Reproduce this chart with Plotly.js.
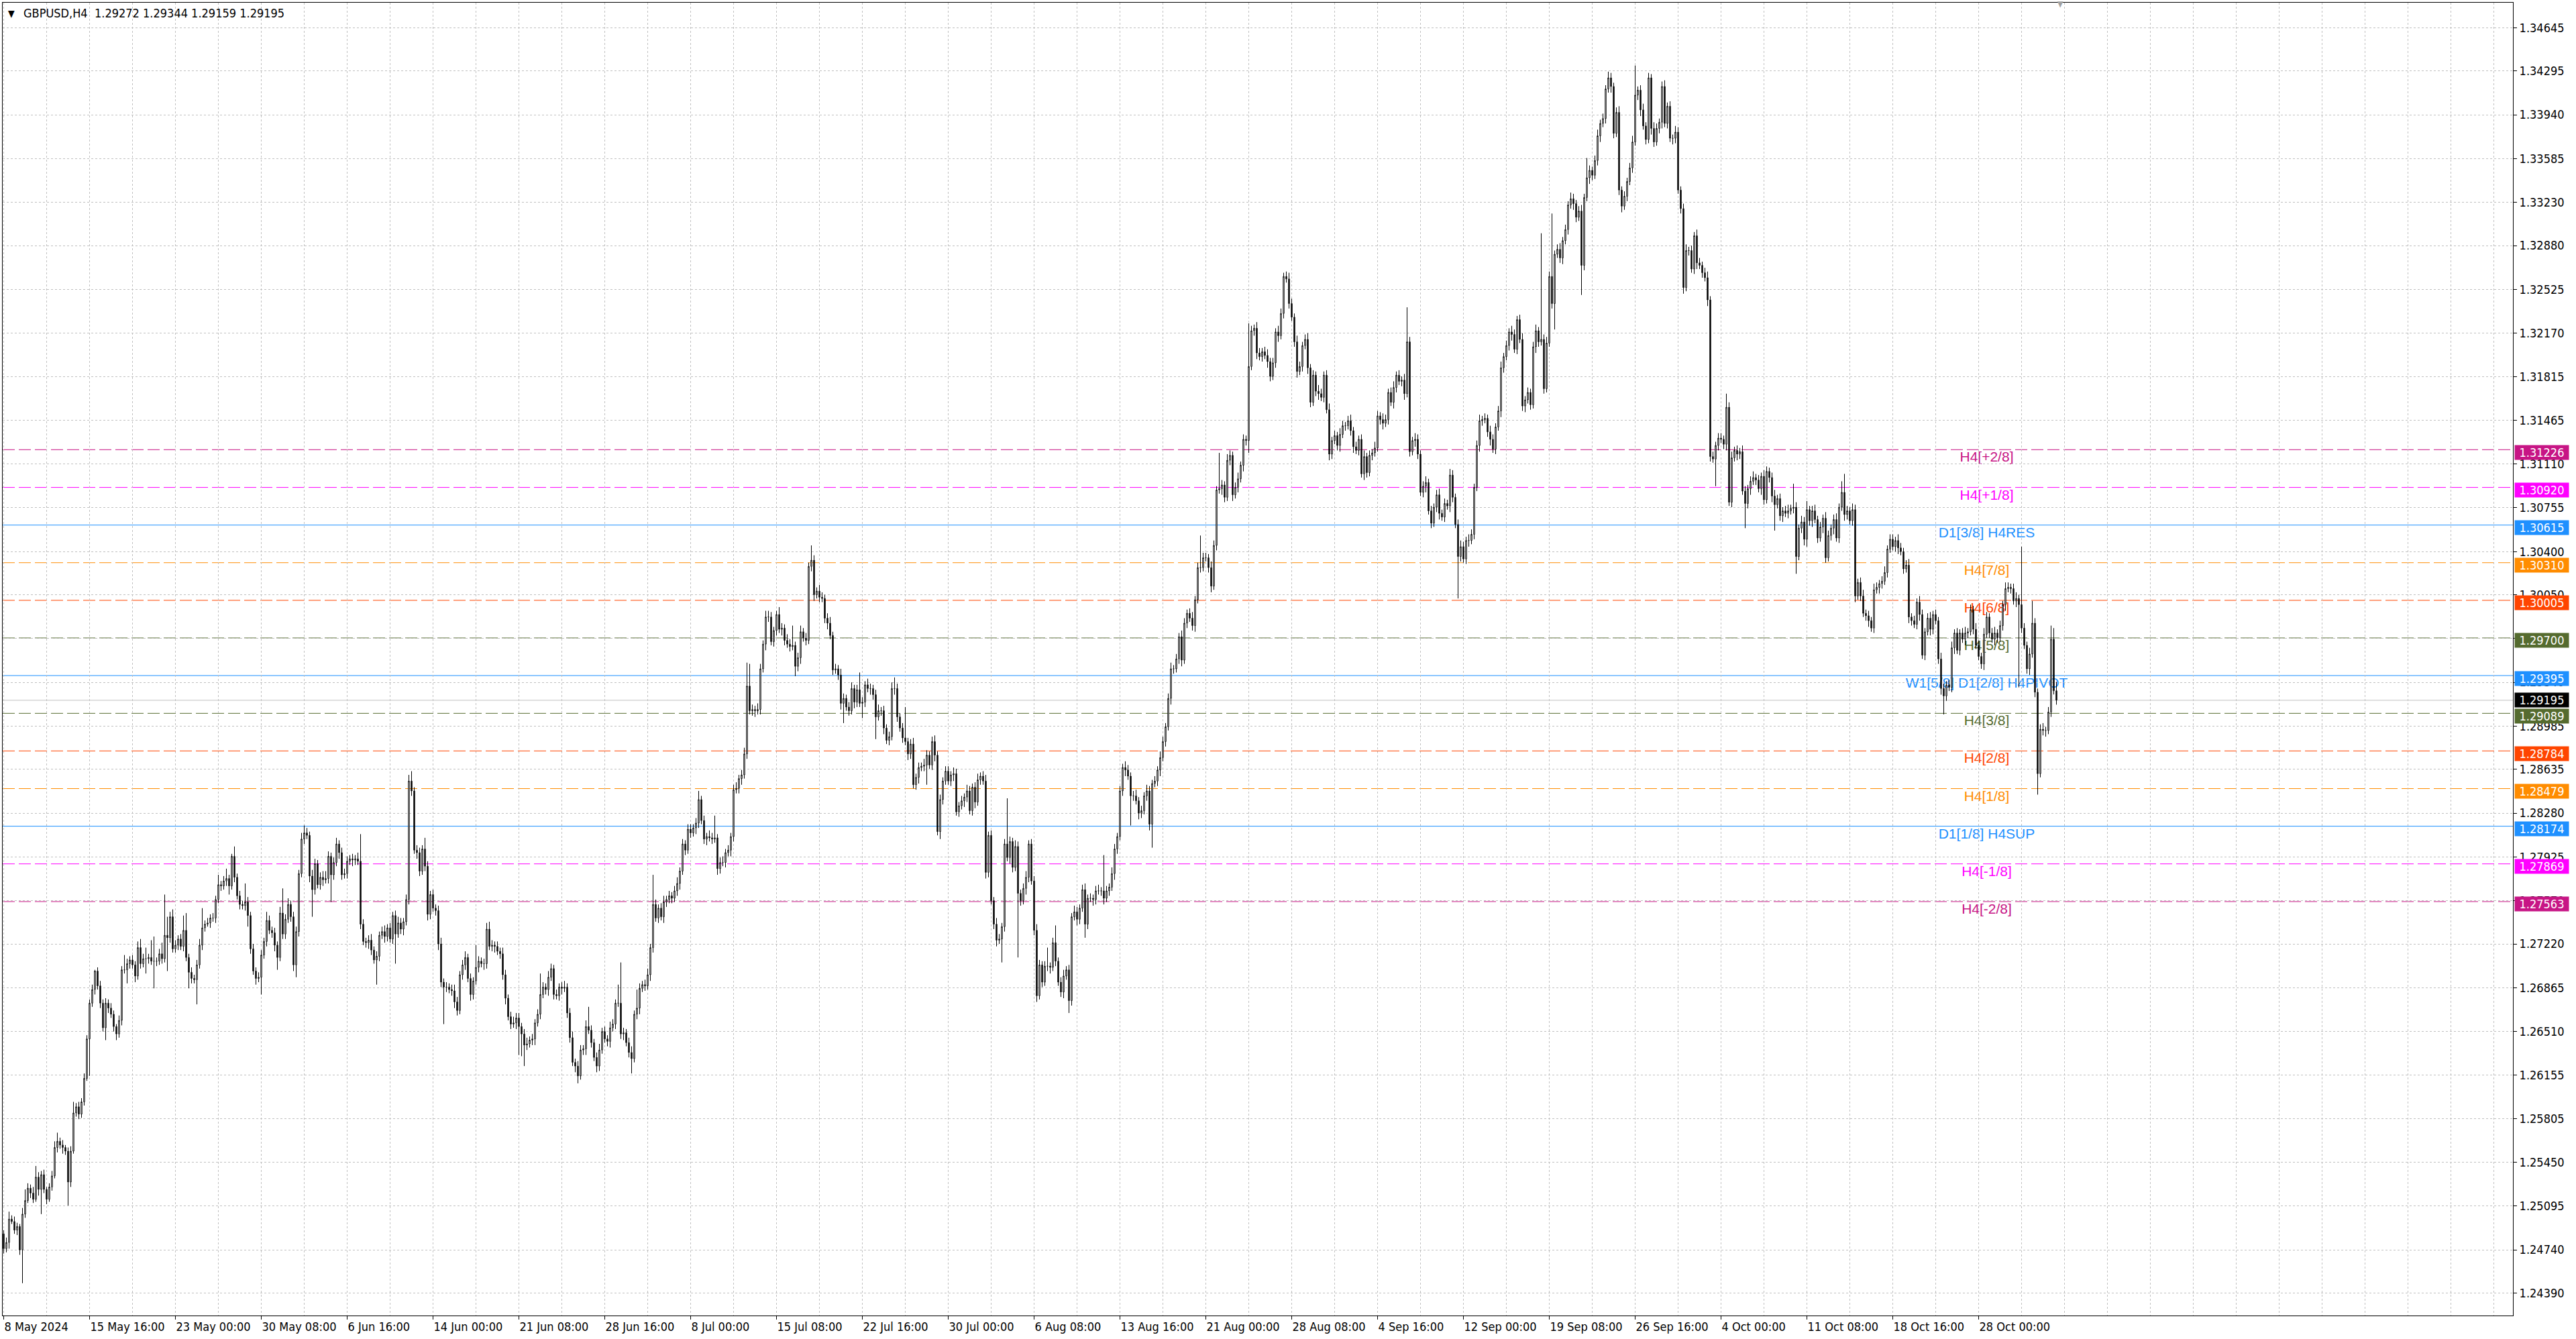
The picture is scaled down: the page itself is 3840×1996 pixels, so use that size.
<!DOCTYPE html>
<html>
<head>
<meta charset="utf-8">
<script src="https://cdn.plot.ly/plotly-3.0.1.min.js"></script>
<style>
  html, body { margin: 0; padding: 0; background: #fff; }
  #chart { width: 3840px; height: 1996px; }
</style>
</head>
<body>
<div id="chart"></div>
<script>
const SYMBOL = 'GBPUSD,H4'
const LAST_OHLC = [1.29272, 1.29344, 1.29159, 1.29195]
const FIRST_OPEN = 1.2487

const dateLabels = [
  '8 May 2024', '15 May 16:00', '23 May 00:00', '30 May 08:00', '6 Jun 16:00', '14 Jun 00:00',
  '21 Jun 08:00', '28 Jun 16:00', '8 Jul 00:00', '15 Jul 08:00', '22 Jul 16:00', '30 Jul 00:00',
  '6 Aug 08:00', '13 Aug 16:00', '21 Aug 00:00', '28 Aug 08:00', '4 Sep 16:00', '12 Sep 00:00',
  '19 Sep 08:00', '26 Sep 16:00', '4 Oct 00:00', '11 Oct 08:00', '18 Oct 16:00', '28 Oct 00:00'
]

const priceTicks = [
  1.34645, 1.34295, 1.33940, 1.33585, 1.33230, 1.32880, 1.32525, 1.32170, 1.31815, 1.31465,
  1.31110, 1.30755, 1.30400, 1.30050, 1.29695, 1.29340, 1.28985, 1.28635, 1.28280, 1.27925,
  1.27570, 1.27220, 1.26865, 1.26510, 1.26155, 1.25805, 1.25450, 1.25095, 1.24740, 1.24390
]

// H4 closes, one row per date label (32 bars)
const closes = [
  1.2475, 1.2480, 1.2499, 1.2497, 1.2490, 1.2493, 1.2474, 1.2503, 1.2514, 1.2524, 1.2520, 1.2515, 1.2533, 1.2523, 1.2535, 1.2523, 1.2515, 1.2525, 1.2534, 1.2557, 1.2562, 1.2559, 1.2557, 1.2554, 1.2529, 1.2554, 1.2585, 1.2590, 1.2584, 1.2594, 1.2613, 1.2645,
  1.2674, 1.2685, 1.2700, 1.2688, 1.2674, 1.2654, 1.2674, 1.2670, 1.2665, 1.2655, 1.2649, 1.2660, 1.2701, 1.2701, 1.2706, 1.2709, 1.2705, 1.2696, 1.2719, 1.2706, 1.2710, 1.2710, 1.2711, 1.2708, 1.2708, 1.2708, 1.2714, 1.2710, 1.2729, 1.2727, 1.2744, 1.2718,
  1.2721, 1.2726, 1.2720, 1.2733, 1.2711, 1.2699, 1.2694, 1.2693, 1.2705, 1.2721, 1.2735, 1.2738, 1.2739, 1.2743, 1.2743, 1.2758, 1.2770, 1.2769, 1.2773, 1.2775, 1.2769, 1.2793, 1.2776, 1.2761, 1.2754, 1.2753, 1.2756, 1.2745, 1.2718, 1.2700, 1.2694, 1.2695,
  1.2713, 1.2724, 1.2741, 1.2733, 1.2731, 1.2721, 1.2711, 1.2747, 1.2730, 1.2742, 1.2754, 1.2744, 1.2705, 1.2732, 1.2779, 1.2807, 1.2812, 1.2810, 1.2777, 1.2766, 1.2787, 1.2770, 1.2776, 1.2774, 1.2775, 1.2793, 1.2778, 1.2788, 1.2803, 1.2796, 1.2778, 1.2779,
  1.2789, 1.2791, 1.2790, 1.2791, 1.2789, 1.2738, 1.2724, 1.2723, 1.2725, 1.2717, 1.2709, 1.2712, 1.2729, 1.2732, 1.2728, 1.2735, 1.2726, 1.2745, 1.2730, 1.2739, 1.2734, 1.2740, 1.2758, 1.2854, 1.2846, 1.2798, 1.2796, 1.2781, 1.2799, 1.2785, 1.2746, 1.2762,
  1.2751, 1.2749, 1.2722, 1.2691, 1.2687, 1.2687, 1.2685, 1.2684, 1.2675, 1.2668, 1.2697, 1.2705, 1.2711, 1.2694, 1.2681, 1.2692, 1.2703, 1.2708, 1.2706, 1.2706, 1.2734, 1.2720, 1.2721, 1.2720, 1.2716, 1.2714, 1.2697, 1.2678, 1.2663, 1.2657, 1.2658, 1.2662,
  1.2655, 1.2649, 1.2640, 1.2641, 1.2644, 1.2645, 1.2658, 1.2665, 1.2681, 1.2687, 1.2685, 1.2695, 1.2702, 1.2681, 1.2680, 1.2687, 1.2686, 1.2687, 1.2666, 1.2646, 1.2626, 1.2623, 1.2615, 1.2636, 1.2637, 1.2655, 1.2652, 1.2642, 1.2630, 1.2623, 1.2636, 1.2651,
  1.2645, 1.2643, 1.2654, 1.2657, 1.2674, 1.2674, 1.2649, 1.2650, 1.2642, 1.2634, 1.2629, 1.2665, 1.2670, 1.2686, 1.2689, 1.2688, 1.2697, 1.2719, 1.2754, 1.2743, 1.2751, 1.2744, 1.2756, 1.2758, 1.2761, 1.2759, 1.2765, 1.2771, 1.2781, 1.2803, 1.2798, 1.2815,
  1.2812, 1.2816, 1.2820, 1.2839, 1.2822, 1.2807, 1.2809, 1.2808, 1.2807, 1.2808, 1.2783, 1.2788, 1.2788, 1.2796, 1.2798, 1.2809, 1.2847, 1.2848, 1.2856, 1.2859, 1.2876, 1.2931, 1.2911, 1.2912, 1.2911, 1.2912, 1.2945, 1.2965, 1.2987, 1.2987, 1.2967, 1.2976,
  1.2989, 1.2977, 1.2978, 1.2968, 1.2965, 1.2963, 1.2964, 1.2947, 1.2954, 1.2975, 1.2970, 1.2968, 1.3028, 1.3033, 1.3005, 1.3008, 1.3003, 1.3002, 1.2986, 1.2982, 1.2972, 1.2944, 1.2945, 1.2940, 1.2917, 1.2921, 1.2914, 1.2911, 1.2929, 1.2918, 1.2928, 1.2917,
  1.2918, 1.2932, 1.2929, 1.2929, 1.2924, 1.2906, 1.2911, 1.2911, 1.2897, 1.2887, 1.2890, 1.2929, 1.2929, 1.2906, 1.2897, 1.2889, 1.2886, 1.2876, 1.2884, 1.2851, 1.2857, 1.2865, 1.2866, 1.2867, 1.2875, 1.2867, 1.2886, 1.2875, 1.2813, 1.2839, 1.2854, 1.2862,
  1.2854, 1.2859, 1.2860, 1.2829, 1.2834, 1.2838, 1.2841, 1.2846, 1.2830, 1.2849, 1.2837, 1.2855, 1.2858, 1.2854, 1.2780, 1.2810, 1.2757, 1.2738, 1.2725, 1.2726, 1.2736, 1.2803, 1.2792, 1.2805, 1.2784, 1.2801, 1.2763, 1.2757, 1.2767, 1.2776, 1.2803, 1.2773,
  1.2733, 1.2680, 1.2705, 1.2691, 1.2704, 1.2704, 1.2703, 1.2723, 1.2708, 1.2691, 1.2683, 1.2696, 1.2701, 1.2676, 1.2744, 1.2748, 1.2742, 1.2751, 1.2766, 1.2738, 1.2759, 1.2759, 1.2758, 1.2765, 1.2765, 1.2765, 1.2759, 1.2765, 1.2768, 1.2779, 1.2799, 1.2809,
  1.2846, 1.2865, 1.2863, 1.2858, 1.2842, 1.2842, 1.2838, 1.2828, 1.2830, 1.2842, 1.2846, 1.2819, 1.2852, 1.2854, 1.2863, 1.2873, 1.2886, 1.2898, 1.2921, 1.2945, 1.2945, 1.2953, 1.2971, 1.2952, 1.2982, 1.2990, 1.2986, 1.2980, 1.3001, 1.3027, 1.3027, 1.3035,
  1.3035, 1.3027, 1.3012, 1.3045, 1.3090, 1.3091, 1.3094, 1.3084, 1.3114, 1.3118, 1.3086, 1.3092, 1.3099, 1.3110, 1.3131, 1.3130, 1.3190, 1.3219, 1.3221, 1.3201, 1.3198, 1.3202, 1.3199, 1.3194, 1.3182, 1.3193, 1.3218, 1.3215, 1.3233, 1.3263, 1.3261, 1.3241,
  1.3230, 1.3210, 1.3186, 1.3190, 1.3207, 1.3212, 1.3189, 1.3161, 1.3183, 1.3170, 1.3168, 1.3165, 1.3183, 1.3155, 1.3119, 1.3130, 1.3134, 1.3126, 1.3135, 1.3142, 1.3142, 1.3146, 1.3138, 1.3125, 1.3122, 1.3131, 1.3103, 1.3117, 1.3104, 1.3118, 1.3120, 1.3124,
  1.3150, 1.3147, 1.3144, 1.3147, 1.3169, 1.3161, 1.3173, 1.3183, 1.3178, 1.3179, 1.3168, 1.3210, 1.3121, 1.3130, 1.3131, 1.3119, 1.3088, 1.3093, 1.3096, 1.3073, 1.3063, 1.3076, 1.3086, 1.3071, 1.3068, 1.3079, 1.3077, 1.3102, 1.3084, 1.3062, 1.3036, 1.3044,
  1.3034, 1.3049, 1.3049, 1.3054, 1.3092, 1.3126, 1.3146, 1.3147, 1.3148, 1.3137, 1.3131, 1.3123, 1.3141, 1.3154, 1.3189, 1.3198, 1.3207, 1.3218, 1.3216, 1.3204, 1.3228, 1.3212, 1.3158, 1.3163, 1.3169, 1.3159, 1.3206, 1.3219, 1.3210, 1.3212, 1.3172, 1.3209,
  1.3263, 1.3241, 1.3281, 1.3285, 1.3278, 1.3292, 1.3301, 1.3321, 1.3326, 1.3322, 1.3311, 1.3316, 1.3272, 1.3327, 1.3343, 1.3349, 1.3345, 1.3357, 1.3377, 1.3387, 1.3391, 1.3415, 1.3424, 1.3417, 1.3379, 1.3396, 1.3333, 1.3320, 1.3328, 1.3340, 1.3351, 1.3372,
  1.3410, 1.3414, 1.3398, 1.3385, 1.3374, 1.3424, 1.3383, 1.3372, 1.3383, 1.3388, 1.3417, 1.3387, 1.3401, 1.3375, 1.3375, 1.3380, 1.3333, 1.3318, 1.3254, 1.3284, 1.3284, 1.3269, 1.3296, 1.3274, 1.3272, 1.3266, 1.3262, 1.3244, 1.3117, 1.3115, 1.3126, 1.3132,
  1.3131, 1.3127, 1.3157, 1.3080, 1.3116, 1.3122, 1.3119, 1.3121, 1.3089, 1.3079, 1.3091, 1.3097, 1.3100, 1.3098, 1.3091, 1.3101, 1.3082, 1.3105, 1.3100, 1.3085, 1.3078, 1.3083, 1.3069, 1.3073, 1.3071, 1.3073, 1.3075, 1.3076, 1.3036, 1.3059, 1.3064, 1.3050,
  1.3074, 1.3065, 1.3073, 1.3066, 1.3051, 1.3060, 1.3067, 1.3035, 1.3053, 1.3059, 1.3066, 1.3051, 1.3076, 1.3088, 1.3070, 1.3073, 1.3065, 1.3074, 1.3004, 1.3015, 1.3004, 1.2990, 1.2988, 1.2984, 1.2978, 1.3009, 1.3011, 1.3014, 1.3016, 1.3023, 1.3042, 1.3050,
  1.3044, 1.3049, 1.3043, 1.3040, 1.3026, 1.3029, 1.2987, 1.2984, 1.2981, 1.2999, 1.2989, 1.2956, 1.2975, 1.2986, 1.2977, 1.2989, 1.2984, 1.2953, 1.2929, 1.2923, 1.2932, 1.2930, 1.2962, 1.2974, 1.2960, 1.2974, 1.2969, 1.2974, 1.2975, 1.2993, 1.2977, 1.2964,
  1.2955, 1.2949, 1.2973, 1.2987, 1.2974, 1.2969, 1.2974, 1.2970, 1.2980, 1.2997, 1.3010, 1.3011, 1.3010, 1.3000, 1.3002, 1.2997, 1.2978, 1.2964, 1.2945, 1.2957, 1.2982, 1.2926, 1.2860, 1.2896, 1.2895, 1.2895, 1.2910, 1.2969, 1.29272, 1.29195
]

// upper / lower wick beyond the body, in pips
const wickUp = [
  3, 4, 6, 3, 4, 3, 2, 5, 9, 4, 3, 5, 9, 4, 3, 4, 2, 3, 4, 5, 7, 3, 4, 2, 3, 4, 9, 3, 4, 3, 4, 3,
  3, 4, 1, 3, 4, 3, 4, 3, 4, 3, 2, 4, 3, 12, 4, 3, 4, 3, 5, 7, 4, 9, 3, 14, 20, 3, 4, 9, 33, 15, 4, 6,
  4, 3, 4, 12, 14, 3, 4, 3, 4, 5, 16, 3, 4, 3, 4, 3, 8, 3, 4, 8, 3, 2, 8, 3, 4, 3, 15, 4, 3, 4, 3, 4,
  4, 3, 7, 4, 3, 4, 3, 5, 20, 4, 5, 3, 4, 4, 3, 5, 6, 4, 3, 5, 4, 3, 4, 5, 6, 4, 3, 4, 5, 3, 4, 4,
  4, 3, 4, 3, 5, 22, 4, 3, 4, 5, 3, 4, 3, 4, 5, 3, 4, 3, 4, 5, 4, 3, 4, 5, 8, 3, 4, 4, 3, 9, 4, 3,
  4, 3, 4, 5, 3, 4, 3, 4, 5, 4, 3, 4, 5, 3, 4, 3, 18, 4, 3, 4, 5, 6, 4, 3, 4, 3, 5, 4, 3, 4, 5, 4,
  4, 3, 4, 5, 3, 4, 3, 4, 17, 4, 3, 5, 4, 3, 4, 3, 4, 5, 3, 4, 5, 3, 4, 4, 3, 5, 16, 4, 3, 4, 5, 3,
  4, 3, 5, 4, 3, 15, 33, 4, 3, 4, 5, 3, 15, 4, 3, 4, 5, 3, 24, 4, 3, 4, 5, 3, 4, 3, 4, 5, 3, 4, 3, 4,
  4, 3, 4, 7, 3, 4, 3, 5, 4, 18, 3, 4, 5, 3, 4, 3, 4, 5, 3, 4, 5, 19, 18, 4, 3, 5, 4, 3, 5, 5, 4, 3,
  3, 6, 4, 3, 5, 4, 16, 3, 4, 5, 3, 4, 3, 12, 4, 3, 5, 4, 3, 4, 5, 3, 4, 3, 5, 4, 3, 4, 5, 3, 4, 14,
  4, 3, 5, 4, 3, 4, 5, 3, 4, 3, 4, 5, 9, 4, 3, 4, 25, 3, 4, 5, 3, 4, 3, 5, 4, 3, 4, 5, 3, 4, 3, 4,
  4, 3, 5, 4, 3, 4, 3, 5, 4, 3, 4, 5, 3, 4, 5, 3, 4, 3, 5, 4, 3, 4, 37, 4, 3, 5, 4, 3, 4, 5, 3, 4,
  4, 5, 4, 3, 4, 15, 3, 4, 14, 3, 4, 5, 3, 4, 3, 5, 4, 3, 4, 5, 3, 4, 3, 4, 5, 3, 29, 4, 3, 5, 4, 3,
  4, 3, 5, 4, 3, 4, 5, 3, 4, 3, 5, 4, 3, 4, 3, 5, 4, 3, 4, 5, 3, 4, 3, 5, 4, 3, 4, 5, 3, 4, 26, 4,
  4, 3, 5, 4, 3, 29, 4, 3, 5, 4, 3, 4, 5, 3, 4, 3, 35, 4, 3, 5, 4, 3, 4, 5, 3, 4, 3, 5, 4, 3, 4, 5,
  4, 3, 5, 4, 3, 4, 5, 3, 4, 3, 5, 4, 3, 4, 5, 3, 4, 3, 5, 4, 3, 4, 5, 3, 4, 3, 4, 5, 3, 4, 3, 5,
  4, 3, 5, 4, 3, 4, 5, 3, 4, 3, 5, 28, 4, 3, 5, 4, 3, 4, 5, 3, 4, 3, 4, 5, 3, 4, 3, 5, 4, 3, 4, 5,
  4, 3, 5, 4, 3, 4, 5, 3, 4, 3, 5, 4, 3, 4, 5, 3, 4, 3, 5, 4, 3, 4, 5, 3, 4, 3, 4, 5, 3, 86, 4, 5,
  4, 51, 3, 4, 5, 3, 4, 3, 5, 4, 3, 4, 5, 3, 16, 4, 3, 4, 5, 3, 4, 3, 5, 4, 3, 4, 5, 3, 4, 3, 4, 5,
  24, 3, 4, 5, 3, 4, 3, 5, 4, 3, 4, 5, 3, 4, 3, 5, 4, 3, 4, 5, 3, 4, 3, 5, 4, 3, 4, 5, 3, 4, 3, 4,
  4, 3, 11, 4, 5, 3, 4, 3, 5, 4, 3, 4, 5, 3, 4, 3, 5, 4, 3, 4, 5, 3, 4, 3, 4, 5, 3, 19, 4, 3, 5, 4,
  7, 3, 4, 5, 3, 4, 3, 5, 4, 3, 4, 5, 3, 9, 15, 4, 3, 5, 4, 3, 4, 5, 3, 4, 3, 5, 4, 3, 4, 5, 3, 4,
  4, 3, 5, 4, 3, 4, 5, 3, 4, 3, 5, 4, 3, 4, 5, 3, 4, 3, 5, 4, 3, 4, 5, 3, 4, 3, 4, 5, 3, 4, 3, 5,
  4, 3, 5, 4, 3, 4, 5, 3, 4, 3, 5, 4, 3, 4, 5, 3, 47, 4, 3, 5, 18, 4, 3, 4, 5, 3, 4, 11, 9, 7
]

const wickDown = [
  4, 3, 5, 2, 3, 4, 4, 27, 3, 2, 4, 3, 2, 5, 20, 3, 4, 2, 3, 2, 4, 3, 5, 3, 19, 4, 2, 3, 4, 3, 3, 2,
  30, 3, 4, 3, 4, 3, 10, 4, 3, 4, 5, 3, 4, 3, 11, 4, 3, 5, 3, 4, 3, 12, 4, 3, 22, 4, 3, 4, 3, 27, 4, 3,
  3, 4, 3, 4, 3, 13, 4, 3, 20, 3, 4, 3, 2, 4, 3, 4, 3, 4, 3, 4, 7, 3, 4, 3, 4, 3, 4, 9, 4, 3, 5, 3,
  14, 3, 4, 3, 4, 5, 10, 3, 4, 4, 3, 4, 5, 10, 4, 3, 4, 3, 5, 22, 4, 3, 4, 5, 3, 4, 22, 4, 3, 5, 4, 3,
  4, 3, 5, 4, 3, 4, 3, 4, 5, 4, 3, 20, 4, 3, 5, 4, 3, 4, 24, 3, 4, 5, 3, 4, 4, 3, 5, 4, 3, 4, 5, 4,
  3, 4, 5, 4, 30, 4, 3, 4, 5, 4, 3, 4, 4, 3, 5, 4, 3, 4, 3, 5, 4, 3, 4, 5, 3, 4, 4, 5, 3, 4, 3, 5,
  23, 18, 17, 4, 3, 4, 5, 3, 4, 3, 4, 5, 3, 4, 3, 4, 5, 3, 4, 4, 3, 5, 6, 3, 4, 5, 3, 4, 3, 5, 4, 3,
  3, 4, 5, 3, 4, 3, 4, 5, 3, 4, 12, 3, 4, 5, 3, 4, 3, 5, 4, 3, 4, 3, 5, 4, 3, 4, 3, 4, 5, 3, 4, 3,
  4, 3, 5, 4, 3, 4, 5, 3, 4, 3, 5, 4, 3, 4, 3, 5, 4, 3, 4, 5, 3, 4, 3, 4, 5, 3, 4, 3, 5, 4, 3, 4,
  4, 3, 5, 4, 3, 4, 3, 8, 4, 5, 3, 4, 3, 4, 5, 3, 4, 3, 4, 5, 3, 4, 3, 4, 5, 16, 3, 4, 3, 5, 4, 3,
  12, 4, 3, 5, 4, 18, 3, 4, 5, 3, 4, 3, 5, 4, 3, 4, 3, 5, 4, 3, 4, 5, 3, 4, 16, 3, 4, 5, 3, 6, 4, 3,
  3, 4, 5, 3, 4, 3, 5, 4, 3, 4, 5, 3, 4, 3, 5, 4, 3, 4, 5, 3, 19, 4, 3, 5, 4, 3, 52, 4, 3, 5, 4, 3,
  4, 5, 3, 4, 3, 4, 5, 3, 4, 3, 4, 5, 3, 10, 4, 3, 5, 4, 3, 11, 4, 3, 5, 4, 3, 4, 5, 3, 4, 3, 5, 4,
  3, 4, 5, 3, 24, 4, 3, 5, 4, 3, 4, 5, 19, 3, 4, 5, 3, 4, 3, 5, 4, 3, 4, 5, 3, 4, 3, 4, 5, 3, 4, 3,
  3, 4, 5, 3, 4, 3, 5, 4, 3, 4, 5, 3, 4, 3, 5, 4, 10, 3, 4, 5, 3, 4, 3, 5, 4, 3, 4, 5, 3, 4, 3, 4,
  3, 4, 5, 3, 4, 3, 5, 4, 3, 4, 5, 3, 4, 3, 5, 4, 3, 4, 5, 3, 4, 3, 4, 5, 3, 4, 3, 5, 4, 3, 4, 3,
  3, 4, 5, 3, 4, 3, 5, 4, 3, 4, 5, 3, 4, 3, 5, 4, 3, 4, 5, 3, 4, 3, 4, 5, 3, 4, 3, 5, 4, 3, 34, 4,
  3, 4, 5, 3, 4, 3, 5, 4, 3, 4, 5, 3, 4, 3, 5, 4, 3, 4, 5, 3, 4, 3, 4, 5, 3, 4, 3, 5, 4, 3, 4, 3,
  3, 4, 21, 3, 4, 5, 3, 4, 3, 5, 4, 3, 24, 4, 3, 5, 4, 3, 4, 5, 3, 4, 3, 5, 4, 3, 4, 5, 3, 4, 3, 4,
  3, 4, 5, 3, 4, 3, 5, 4, 3, 4, 5, 3, 4, 3, 5, 4, 3, 4, 5, 3, 4, 3, 4, 5, 3, 4, 3, 5, 4, 3, 22, 4,
  3, 4, 5, 3, 4, 3, 5, 4, 3, 20, 4, 5, 3, 4, 3, 5, 4, 3, 4, 5, 21, 3, 4, 5, 3, 4, 3, 4, 14, 3, 4, 5,
  6, 4, 5, 3, 4, 3, 5, 4, 3, 4, 5, 3, 4, 3, 5, 4, 3, 4, 5, 3, 4, 3, 4, 5, 3, 4, 3, 5, 4, 3, 4, 3,
  3, 4, 5, 3, 4, 3, 5, 4, 3, 4, 5, 3, 4, 3, 5, 4, 3, 4, 5, 15, 4, 3, 4, 5, 3, 4, 3, 5, 4, 3, 4, 3,
  3, 4, 5, 3, 4, 3, 5, 4, 3, 4, 5, 3, 4, 3, 5, 67, 4, 3, 4, 5, 3, 4, 17, 3, 4, 5, 3, 4, 3, 4
]

const levelPrices = [1.31226, 1.30920, 1.30615, 1.30310, 1.30005, 1.29700, 1.29395, 1.29089, 1.28784, 1.28479, 1.28174, 1.27869, 1.27563]
const levelNames = ['H4[+2/8]', 'H4[+1/8]', 'D1[3/8] H4RES', 'H4[7/8]', 'H4[6/8]', 'H4[5/8]', 'W1[5/8] D1[2/8] H4PIVOT',
  'H4[3/8]', 'H4[2/8]', 'H4[1/8]', 'D1[1/8] H4SUP', 'H4[-1/8]', 'H4[-2/8]']
const CURRENT_PRICE = 1.29195
const LEVEL_LABEL_BAR = 739

const LEVEL_STYLE = {
  'H4[+2/8]': { color: '#c71585', dash: '18px,6px' },
  'H4[+1/8]': { color: '#ff00ff', dash: '18px,6px' },
  'D1[3/8] H4RES': { color: '#1e90ff', dash: 'solid' },
  'H4[7/8]': { color: '#ff8c00', dash: '18px,6px' },
  'H4[6/8]': { color: '#ff4500', dash: '18px,6px' },
  'H4[5/8]': { color: '#556b2f', dash: '18px,6px' },
  'W1[5/8] D1[2/8] H4PIVOT': { color: '#1e90ff', dash: 'solid' },
  'H4[3/8]': { color: '#556b2f', dash: '18px,6px' },
  'H4[2/8]': { color: '#ff4500', dash: '18px,6px' },
  'H4[1/8]': { color: '#ff8c00', dash: '18px,6px' },
  'D1[1/8] H4SUP': { color: '#1e90ff', dash: 'solid' },
  'H4[-1/8]': { color: '#ff00ff', dash: '18px,6px' },
  'H4[-2/8]': { color: '#c71585', dash: '18px,6px' }
}

const FONT = '"DejaVu Sans Condensed", "DejaVu Sans", sans-serif'
const LABEL_FONT = '"Liberation Sans", Arial, sans-serif'
const GRID = '#c0c0c0'
const PIP = 0.0001
const X_RANGE = [-0.375, 935.125]
const Y_RANGE = [1.24208, 1.34849]
const PLOT_HEIGHT = 1996 - 4 - 35
// price per screen pixel, used to lift the level names a few pixels
const PX = (Y_RANGE[1] - Y_RANGE[0]) / PLOT_HEIGHT

const bars = closes.map((c, i) => i)
const opens = closes.map((c, i) => (i === 0 ? FIRST_OPEN : closes[i - 1]))
const highs = closes.map((c, i) => Math.max(opens[i], c) + (wickUp[i] || 0) * PIP)
const lows = closes.map((c, i) => Math.min(opens[i], c) - (wickDown[i] || 0) * PIP)
const last = closes.length - 1
opens[last] = LAST_OHLC[0]
highs[last] = LAST_OHLC[1]
lows[last] = LAST_OHLC[2]
closes[last] = LAST_OHLC[3]

const candles = {
  type: 'candlestick',
  x: bars,
  open: opens,
  high: highs,
  low: lows,
  close: closes,
  whiskerwidth: 0,
  increasing: { line: { color: '#000', width: 1 }, fillcolor: '#fff' },
  decreasing: { line: { color: '#000', width: 1 }, fillcolor: '#000' },
  hoverinfo: 'skip',
  showlegend: false
}

const shapes = []
const annotations = []

levelPrices.forEach((price, k) => {
  const style = LEVEL_STYLE[levelNames[k]]
  shapes.push({
    type: 'line', xref: 'x', yref: 'y', layer: 'below',
    x0: X_RANGE[0], x1: X_RANGE[1], y0: price, y1: price,
    line: { color: style.color, width: 1, dash: style.dash }
  })
  // level name sits under the candles, so it is a shape label
  shapes.push({
    type: 'line', xref: 'x', yref: 'y', layer: 'below',
    x0: LEVEL_LABEL_BAR - 1, x1: LEVEL_LABEL_BAR + 1, y0: price + 3 * PX, y1: price + 3 * PX,
    line: { color: 'rgba(0,0,0,0)', width: 0 },
    label: {
      text: levelNames[k],
      textposition: 'middle',
      xanchor: 'center',
      yanchor: 'top',
      padding: 0,
      font: { family: LABEL_FONT, size: 21, color: style.color }
    }
  })
  annotations.push({
    xref: 'paper', yref: 'y', x: 1, y: price,
    xanchor: 'left', yanchor: 'middle', xshift: 2, yshift: -4,
    width: 80, height: 21, borderpad: 0,
    text: price.toFixed(5), showarrow: false,
    bgcolor: style.color,
    font: { family: FONT, size: 18, color: '#fff' }
  })
})

shapes.push({
  type: 'line', xref: 'x', yref: 'y', layer: 'below',
  x0: X_RANGE[0], x1: X_RANGE[1], y0: CURRENT_PRICE, y1: CURRENT_PRICE,
  line: { color: GRID, width: 1 }
})
annotations.push({
  xref: 'paper', yref: 'y', x: 1, y: CURRENT_PRICE,
  xanchor: 'left', yanchor: 'middle', xshift: 2,
  width: 80, height: 21, borderpad: 0,
  text: CURRENT_PRICE.toFixed(5), showarrow: false,
  bgcolor: '#000',
  font: { family: FONT, size: 18, color: '#fff' }
})

annotations.push({
  xref: 'paper', yref: 'paper', x: 0.0016, y: 1, xanchor: 'left', yanchor: 'top', yshift: -6,
  text: '\u25BC', showarrow: false, font: { family: FONT, size: 14, color: '#000' }
})
annotations.push({
  xref: 'paper', yref: 'paper', x: 0.0078, y: 1, xanchor: 'left', yanchor: 'top', yshift: -3,
  text: SYMBOL + '\u00a0\u00a0' + LAST_OHLC.map(v => v.toFixed(5)).join(' '),
  showarrow: false, font: { family: FONT, size: 18, color: '#000' }
})
annotations.push({
  xref: 'x', yref: 'paper', x: last + 1.4, y: 1, xanchor: 'center', yanchor: 'middle', yshift: -2,
  text: '\u25BC', showarrow: false, font: { family: FONT, size: 12, color: '#a0a0a0' }
})

const layout = {
  width: 3840,
  height: 1996,
  margin: { l: 4, r: 94, t: 4, b: 35 },
  paper_bgcolor: '#fff',
  plot_bgcolor: '#fff',
  showlegend: false,
  hovermode: false,
  boxgap: 0.5,
  font: { family: FONT, size: 18, color: '#000' },
  xaxis: {
    range: X_RANGE,
    tickmode: 'array',
    tickvals: dateLabels.map((d, k) => k * 32),
    ticktext: dateLabels,
    tickangle: 0,
    ticks: 'outside',
    ticklen: 5,
    tickcolor: '#000',
    ticklabelposition: 'outside right',
    tickfont: { family: FONT, size: 18, color: '#000' },
    showgrid: true,
    gridcolor: GRID,
    griddash: '3px,3px',
    minor: { tickmode: 'linear', tick0: 0, dtick: 16, showgrid: true, gridcolor: GRID, griddash: '3px,3px', ticks: '' },
    showline: true,
    linecolor: '#000',
    linewidth: 1,
    mirror: true,
    zeroline: false,
    rangeslider: { visible: false },
    fixedrange: true
  },
  yaxis: {
    side: 'right',
    range: Y_RANGE,
    tickmode: 'array',
    tickvals: priceTicks,
    ticktext: priceTicks.map(v => v.toFixed(5)),
    ticks: 'outside',
    ticklen: 5,
    tickcolor: '#000',
    tickfont: { family: FONT, size: 18, color: '#000' },
    showgrid: true,
    gridcolor: GRID,
    griddash: '3px,3px',
    showline: true,
    linecolor: '#000',
    linewidth: 1,
    mirror: true,
    zeroline: false,
    fixedrange: true
  },
  shapes: shapes,
  annotations: annotations
}

Plotly.newPlot('chart', [candles], layout, { displayModeBar: false, staticPlot: true })
</script>
</body>
</html>
